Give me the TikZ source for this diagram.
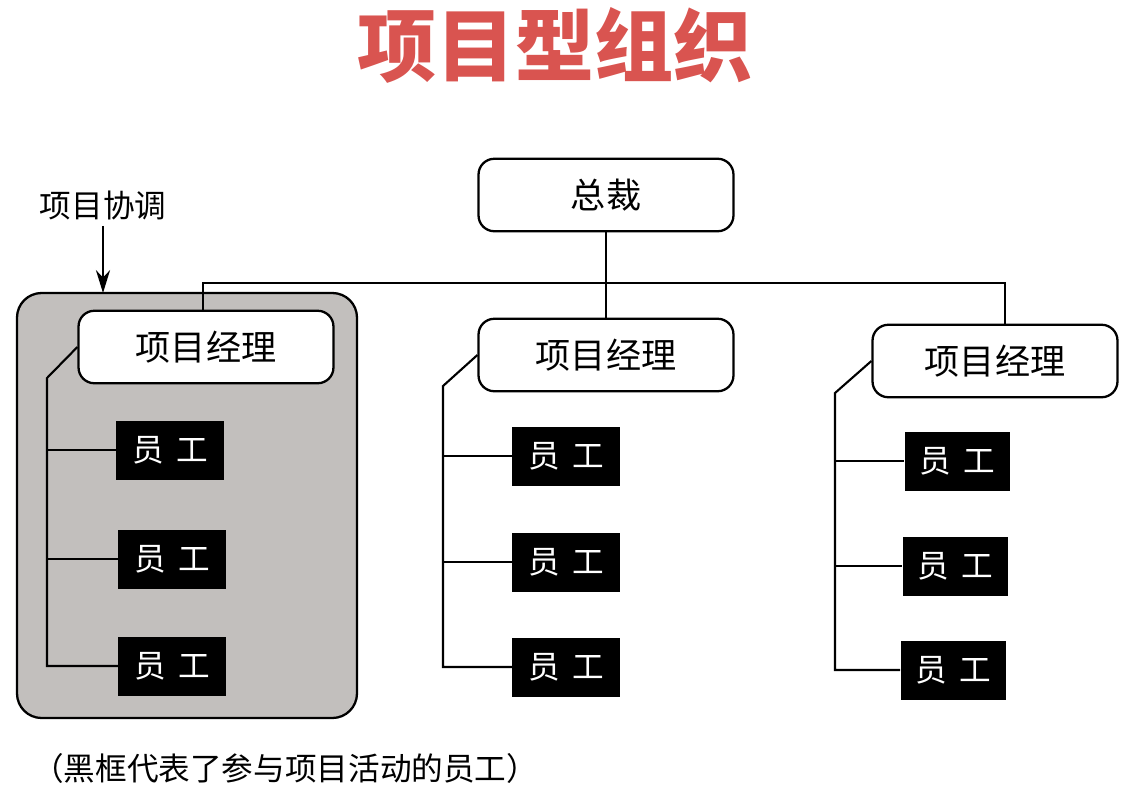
\documentclass[tikz,border=0pt]{standalone}
\usepackage{fontspec}
\setmainfont{Noto Sans CJK SC}
\usetikzlibrary{arrows.meta}

\definecolor{titlered}{RGB}{217,84,80}
\definecolor{groupgray}{RGB}{194,191,189}

\tikzset{
  mgrbox/.style={draw, line width=1.3pt, rounded corners=9pt, fill=white,
    minimum width=5.1cm, minimum height=1.45cm, font=\fontsize{20}{20}\selectfont},
  staffbox/.style={fill=black, text=white, minimum width=2.15cm, minimum height=1.18cm,
    inner sep=0pt, font=\fontsize{18}{18}\selectfont},
  link/.style={line width=1.2pt}
}

\begin{document}
\begin{tikzpicture}[x=0.02cm, y=-0.02cm]
  \useasboundingbox (0,0) rectangle (1126,795);

  % title
  \node[text=titlered, font=\fontsize{45}{45}\selectfont\bfseries] (title) at (555,45) {项目型组织};

  % shaded project area (left)
  \draw[line width=1.3pt, rounded corners=14pt, fill=groupgray] (17,293) rectangle (357,718);
  \coordinate (grpTop) at (103,293);
  \node[font=\fontsize{18}{18}\selectfont] (coordlabel) at (103,205) {项目协调};
  \draw[line width=1.4pt, -{Stealth[length=13pt, width=8pt]}] (coordlabel.south) -- (grpTop);

  % president
  \node[mgrbox] (pres) at (606,195) {总裁};

  % project managers
  \node[mgrbox] (pm1) at (206,347) {项目经理};
  \node[mgrbox] (pm2) at (606,355) {项目经理};
  \node[mgrbox, minimum width=4.9cm] (pm3) at (995,361) {项目经理};

  % staff, left column
  \node[staffbox] (e11) at (170,450) {员\hspace{0.4em}工};
  \node[staffbox] (e12) at (172,559) {员\hspace{0.4em}工};
  \node[staffbox] (e13) at (172,666) {员\hspace{0.4em}工};
  % staff, middle column
  \node[staffbox] (e21) at (566,456) {员\hspace{0.4em}工};
  \node[staffbox] (e22) at (566,562) {员\hspace{0.4em}工};
  \node[staffbox] (e23) at (566,667) {员\hspace{0.4em}工};
  % staff, right column
  \node[staffbox, minimum width=2.1cm] (e31) at (957,461) {员\hspace{0.4em}工};
  \node[staffbox, minimum width=2.1cm] (e32) at (955,566) {员\hspace{0.4em}工};
  \node[staffbox, minimum width=2.1cm] (e33) at (953,670) {员\hspace{0.4em}工};

  % bus from president to managers
  \coordinate (busL) at (203,283);
  \coordinate (busR) at (1005,283);
  \draw[link] (pres.south) -- (pm2.north);
  \draw[link] (busL |- pm1.north) -- (busL) -- (busR) -- (busR |- pm3.north);

  % manager to staff lines
  \coordinate (k1) at (47,378);
  \coordinate (k2) at (443,386);
  \coordinate (k3) at (835,393);
  \draw[link] (pm1.west) -- (k1) -- (k1 |- e13) -- (e13.west);
  \draw[link] (k1 |- e11) -- (e11.west);
  \draw[link] (k1 |- e12) -- (e12.west);
  \draw[link] (pm2.west) -- (k2) -- (k2 |- e23) -- (e23.west);
  \draw[link] (k2 |- e21) -- (e21.west);
  \draw[link] (k2 |- e22) -- (e22.west);
  \draw[link] (pm3.west) -- (k3) -- (k3 |- e33) -- (e33.west);
  \draw[link] (k3 |- e31) -- (e31.west);
  \draw[link] (k3 |- e32) -- (e32.west);

  % note
  \node[anchor=west, font=\fontsize{18}{18}\selectfont] (note) at (26,768) {（黑框代表了参与项目活动的员工）};
\end{tikzpicture}
\end{document}
